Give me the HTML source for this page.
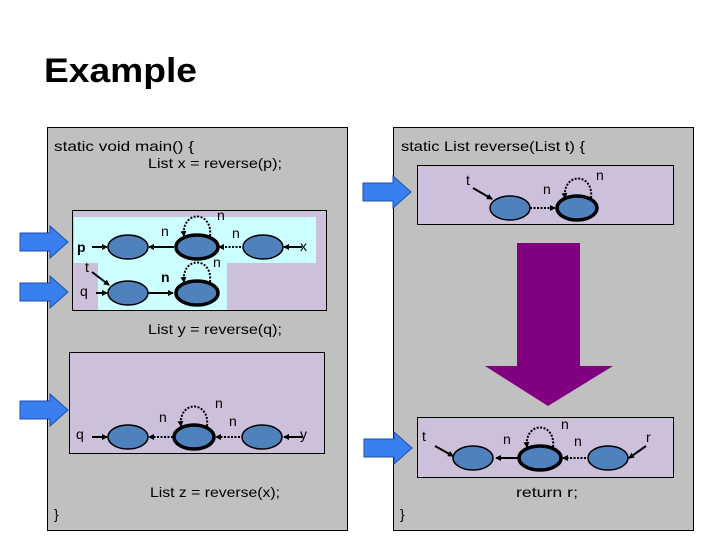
<!DOCTYPE html>
<html><head><meta charset="utf-8"><style>
html,body{margin:0;padding:0;background:#fff;}
svg{display:block;font-family:"Liberation Sans",sans-serif;}
.c{font-size:14px;fill:#000;}
.l{font-size:14px;fill:#000;}
.b{font-size:14px;font-weight:bold;fill:#000;}
</style></head><body>
<svg width="720" height="540" viewBox="0 0 720 540" xmlns="http://www.w3.org/2000/svg">
<defs>
<marker id="ah" markerWidth="6" markerHeight="6" refX="5" refY="3" orient="auto" markerUnits="userSpaceOnUse"><path d="M0,0 L6,3 L0,6 z" fill="#000"/></marker>
<g id="barrow"><path d="M0,7 H30 V0 L48,16 L30,32 V25 H0 Z" fill="#3a7ff0" stroke="#1d4fb0" stroke-width="1"/></g>
</defs>
<text x="44" y="82" font-size="34" font-weight="bold" textLength="153" lengthAdjust="spacingAndGlyphs">Example</text>

<rect x="47.5" y="127.5" width="300" height="403" fill="#c0c0c0" stroke="#000"/>
<text class="c" x="54" y="151" textLength="140" lengthAdjust="spacingAndGlyphs">static void main() {</text>
<text class="c" x="148" y="168" textLength="134" lengthAdjust="spacingAndGlyphs">List x = reverse(p);</text>
<rect x="72.5" y="210.5" width="254" height="100" fill="#ccc0da" stroke="#000"/>
<rect x="74" y="217" width="242" height="46" fill="#ccffff"/>
<rect x="98" y="263" width="129" height="47" fill="#ccffff"/>
<g stroke="#000" stroke-width="2" fill="none">
<line x1="92" y1="247" x2="107" y2="247" marker-end="url(#ah)"/>
<line x1="174" y1="247" x2="149" y2="247" marker-end="url(#ah)"/>
<line x1="241" y1="247" x2="219" y2="247" stroke-dasharray="2,1.5" marker-end="url(#ah)"/>
<line x1="302" y1="247" x2="284" y2="247" marker-end="url(#ah)"/>
<path d="M210,236 C213,210 181,210 184,236" stroke-dasharray="2,1.5" marker-end="url(#ah)"/>
<line x1="96" y1="293" x2="107" y2="293" marker-end="url(#ah)"/>
<line x1="92" y1="272" x2="109" y2="285" marker-end="url(#ah)"/>
<line x1="148" y1="293" x2="173" y2="293" marker-end="url(#ah)"/>
<path d="M210,282 C213,256 181,256 184,282" stroke-dasharray="2,1.5" marker-end="url(#ah)"/>
</g>
<g fill="#4f81bd" stroke="#000">
<ellipse cx="128" cy="247" rx="20" ry="12" stroke-width="1.5"/>
<ellipse cx="197" cy="247" rx="21" ry="12" stroke-width="3.5"/>
<ellipse cx="263" cy="247" rx="20" ry="12" stroke-width="1.5"/>
<ellipse cx="128" cy="293" rx="20" ry="12" stroke-width="1.5"/>
<ellipse cx="197" cy="293" rx="21" ry="12" stroke-width="3.5"/>
</g>
<text class="b" x="77" y="252">p</text>
<text class="l" x="300" y="251">x</text>
<text class="l" x="85" y="272">t</text>
<text class="l" x="80" y="296">q</text>
<text class="l" x="161" y="236">n</text>
<text class="l" x="217" y="220">n</text>
<text class="l" x="232" y="238">n</text>
<text class="l" x="213" y="267">n</text>
<text class="b" x="161" y="282">n</text>

<text class="c" x="148" y="334" textLength="134" lengthAdjust="spacingAndGlyphs">List y = reverse(q);</text>
<rect x="69.5" y="352.5" width="255" height="101" fill="#ccc0da" stroke="#000"/>
<g stroke="#000" stroke-width="2" fill="none">
<line x1="92" y1="437" x2="107" y2="437" marker-end="url(#ah)"/>
<line x1="173" y1="437" x2="149" y2="437" stroke-dasharray="2,1.5" marker-end="url(#ah)"/>
<line x1="240" y1="437" x2="216" y2="437" stroke-dasharray="2,1.5" marker-end="url(#ah)"/>
<line x1="302" y1="437" x2="284" y2="437" marker-end="url(#ah)"/>
<path d="M207,426 C210,400 178,400 181,426" stroke-dasharray="2,1.5" marker-end="url(#ah)"/>
</g>
<g fill="#4f81bd" stroke="#000">
<ellipse cx="128" cy="437" rx="20" ry="12" stroke-width="1.5"/>
<ellipse cx="194" cy="437" rx="20" ry="12" stroke-width="3.5"/>
<ellipse cx="262" cy="437" rx="20" ry="12" stroke-width="1.5"/>
</g>
<text class="l" x="76" y="439">q</text>
<text class="l" x="300" y="439">y</text>
<text class="l" x="159" y="422">n</text>
<text class="l" x="215" y="408">n</text>
<text class="l" x="229" y="426">n</text>
<text class="c" x="150" y="497" textLength="130" lengthAdjust="spacingAndGlyphs">List z = reverse(x);</text>
<text class="c" x="54" y="519">}</text>

<rect x="393.5" y="127.5" width="300" height="403" fill="#c0c0c0" stroke="#000"/>
<text class="c" x="401" y="151" textLength="184" lengthAdjust="spacingAndGlyphs">static List reverse(List t) {</text>
<rect x="417.5" y="165.5" width="256" height="59" fill="#ccc0da" stroke="#000"/>
<g stroke="#000" stroke-width="2" fill="none">
<line x1="473" y1="188" x2="492" y2="199" marker-end="url(#ah)"/>
<line x1="530" y1="208" x2="555" y2="208" stroke-dasharray="2,1.5" marker-end="url(#ah)"/>
<path d="M591,198 C594,172 562,172 565,198" stroke-dasharray="2,1.5" marker-end="url(#ah)"/>
</g>
<g fill="#4f81bd" stroke="#000">
<ellipse cx="510" cy="208" rx="20" ry="12" stroke-width="1.5"/>
<ellipse cx="577" cy="208" rx="20" ry="12" stroke-width="3.5"/>
</g>
<text class="l" x="466" y="185">t</text>
<text class="l" x="543" y="194">n</text>
<text class="l" x="596" y="180">n</text>

<path d="M517,243 H580 V366 H613 L548,406 L485,366 H517 Z" fill="#800080"/>

<rect x="417.5" y="417.5" width="256" height="60" fill="#ccc0da" stroke="#000"/>
<g stroke="#000" stroke-width="2" fill="none">
<line x1="435" y1="446" x2="453" y2="456" marker-end="url(#ah)"/>
<line x1="519" y1="458" x2="496" y2="458" marker-end="url(#ah)"/>
<line x1="586" y1="458" x2="563" y2="458" stroke-dasharray="2,1.5" marker-end="url(#ah)"/>
<line x1="646" y1="446" x2="629" y2="458" marker-end="url(#ah)"/>
<path d="M553,447 C556,421 524,421 527,447" stroke-dasharray="2,1.5" marker-end="url(#ah)"/>
</g>
<g fill="#4f81bd" stroke="#000">
<ellipse cx="473" cy="458" rx="20" ry="12" stroke-width="1.5"/>
<ellipse cx="540" cy="458" rx="21" ry="12" stroke-width="3.5"/>
<ellipse cx="608" cy="458" rx="20" ry="12" stroke-width="1.5"/>
</g>
<text class="l" x="422" y="441">t</text>
<text class="l" x="646" y="442">r</text>
<text class="l" x="503" y="444">n</text>
<text class="l" x="561" y="429">n</text>
<text class="l" x="574" y="446">n</text>
<text class="c" x="516" y="497" textLength="62" lengthAdjust="spacingAndGlyphs">return r;</text>
<text class="c" x="400" y="519">}</text>

<use href="#barrow" x="20" y="226"/>
<use href="#barrow" x="20" y="276"/>
<use href="#barrow" x="20" y="394"/>
<use href="#barrow" x="363" y="176"/>
<use href="#barrow" x="364" y="432"/>
</svg>
</body></html>
